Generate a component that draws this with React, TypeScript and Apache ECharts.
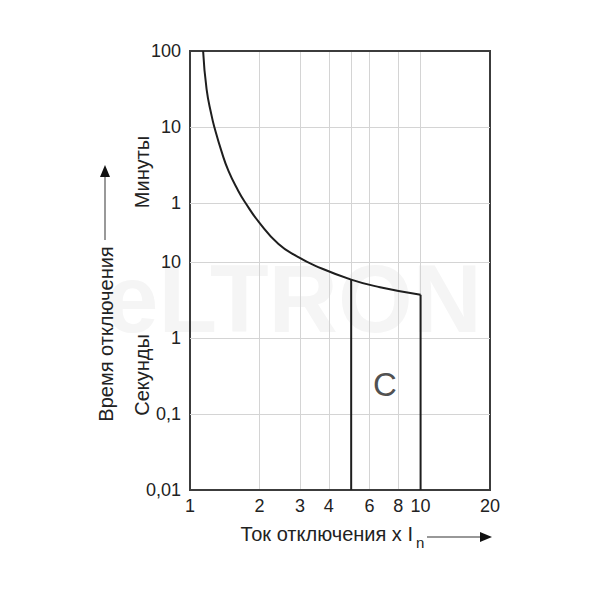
import React, { useEffect, useRef } from "react";
import * as echarts from "echarts";

// Tripping characteristic C (current multiple x In vs. time in seconds)
const curveCurrent = [1.14, 1.18, 1.24, 1.275, 1.37, 1.47, 1.62, 1.73, 1.99, 2.42, 2.95, 3.48, 5.0, 6.67, 10];
const curveTimeSec = [6000, 1890, 852, 600, 286, 157, 86.4, 61.8, 33.6, 17.3, 11.6, 9.0, 5.88, 4.67, 3.71];
const bandLimits = [5, 10];
const minTime = 0.01;

const xTicks = [1, 2, 3, 4, 5, 6, 8, 10, 20];
const xTickLabels = ["1", "2", "3", "4", "", "6", "8", "10", "20"];
const yTicksSec = [0.01, 0.1, 1, 10, 60, 600, 6000];
const yTickLabels = ["0,01", "0,1", "1", "10", "1", "10", "100"];

const FONT = "Liberation Sans, Arial, sans-serif";
const TEXT = "#222";
const FRAME = "#3c3c3c";
const GRID = "#d4d4d4";

export default function App() {
  const ref = useRef<HTMLDivElement>(null);
  useEffect(() => {
    document.body.style.margin = "0";
    const chart = echarts.init(ref.current!, null, { renderer: "svg" });
    const xMin = xTicks[0];
    const xMax = xTicks[xTicks.length - 1];
    const yMax = yTicksSec[yTicksSec.length - 1];
    const isEdgeX = (v: number) => v === xMin || v === xMax;
    const isEdgeY = (v: number) => v === minTime || v === yMax;

    const bandSeries = bandLimits.map((x) => {
      const i = curveCurrent.indexOf(x);
      return {
        type: "line",
        z: 3,
        symbol: "none",
        silent: true,
        lineStyle: { color: "#1e1e1e", width: 2 },
        data: [
          [x, minTime],
          [x, curveTimeSec[i]],
        ],
      };
    });

    chart.setOption({
      animation: false,
      grid: {
        left: 190,
        right: 110,
        top: 51,
        bottom: 110,
        show: true,
        borderColor: FRAME,
        borderWidth: 2,
      },
      xAxis: {
        type: "log",
        logBase: 10,
        min: xMin,
        max: xMax,
        axisLine: { show: false },
        axisTick: { show: false },
        axisLabel: { show: false },
        splitLine: { show: false },
        minorSplitLine: { show: false },
      },
      yAxis: {
        type: "log",
        logBase: 10,
        min: minTime,
        max: yMax,
        axisLine: { show: false },
        axisTick: { show: false },
        axisLabel: { show: false },
        splitLine: { show: false },
        minorSplitLine: { show: false },
      },
      graphic: [
        {
          type: "text",
          z: -10,
          left: 105,
          top: 250,
          style: {
            text: "eLTRON",
            fontSize: 96,
            fontWeight: "bold",
            fontFamily: FONT,
            fill: "#f5f5f5",
          },
        },
        {
          type: "text",
          x: 106,
          y: 334,
          rotation: Math.PI / 2,
          style: {
            text: "Время отключения",
            fontSize: 20,
            fontFamily: FONT,
            fill: TEXT,
            align: "center",
            verticalAlign: "middle",
          },
        },
        {
          type: "text",
          x: 142,
          y: 172,
          rotation: Math.PI / 2,
          style: {
            text: "Минуты",
            fontSize: 20,
            fontFamily: FONT,
            fill: TEXT,
            align: "center",
            verticalAlign: "middle",
          },
        },
        {
          type: "text",
          x: 142,
          y: 375,
          rotation: Math.PI / 2,
          style: {
            text: "Секунды",
            fontSize: 20,
            fontFamily: FONT,
            fill: TEXT,
            align: "center",
            verticalAlign: "middle",
          },
        },
        {
          type: "line",
          shape: { x1: 105, y1: 240, x2: 105, y2: 176 },
          style: { stroke: "#555", lineWidth: 1.2 },
        },
        {
          type: "polygon",
          shape: { points: [[100, 177], [110, 177], [105, 165]] },
          style: { fill: "#111" },
        },
        {
          type: "text",
          x: 413,
          y: 534,
          style: {
            text: "Ток отключения x I",
            fontSize: 20,
            fontFamily: FONT,
            fill: TEXT,
            align: "right",
            verticalAlign: "middle",
          },
        },
        {
          type: "text",
          x: 416,
          y: 542,
          style: {
            text: "n",
            fontSize: 15,
            fontFamily: FONT,
            fill: TEXT,
            align: "left",
            verticalAlign: "middle",
          },
        },
        {
          type: "line",
          shape: { x1: 427, y1: 537, x2: 481, y2: 537 },
          style: { stroke: "#333", lineWidth: 1.2 },
        },
        {
          type: "polygon",
          shape: { points: [[480, 532], [480, 542], [492, 537]] },
          style: { fill: "#111" },
        },
      ],
      series: [
        {
          type: "line",
          z: 1,
          symbol: "none",
          silent: true,
          data: [],
          markLine: {
            z: 1,
            silent: true,
            symbol: ["none", "none"],
            animation: false,
            lineStyle: { color: GRID, width: 1, type: "solid" },
            label: {
              show: true,
              position: "start",
              formatter: (p: any) => p.name,
              color: TEXT,
              fontSize: 18,
              fontFamily: FONT,
            },
            data: [
              ...xTicks.map((v, i) => ({
                xAxis: v,
                name: xTickLabels[i],
                label: { distance: 7 },
                lineStyle: isEdgeX(v) ? { color: FRAME, width: 2 } : { color: GRID, width: 1 },
              })),
              ...yTicksSec.map((v, i) => ({
                yAxis: v,
                name: yTickLabels[i],
                label: { distance: 9 },
                lineStyle: isEdgeY(v) ? { color: FRAME, width: 2 } : { color: GRID, width: 1 },
              })),
            ],
          },
        },
        {
          type: "line",
          z: 4,
          symbol: "none",
          smooth: 0.5,
          silent: true,
          lineStyle: { color: "#1e1e1e", width: 2 },
          data: curveCurrent.map((x, i) => [x, curveTimeSec[i]]),
        },
        ...bandSeries,
        {
          type: "scatter",
          z: 5,
          silent: true,
          symbolSize: 1,
          itemStyle: { color: "rgba(0,0,0,0)" },
          label: {
            show: true,
            position: "inside",
            formatter: "C",
            fontSize: 33,
            fontFamily: FONT,
            color: TEXT,
          },
          data: [[7.0, 0.245]],
        },
      ],
    });
    return () => chart.dispose();
  }, []);
  return <div ref={ref} style={{ width: 600, height: 600 }} />;
}
